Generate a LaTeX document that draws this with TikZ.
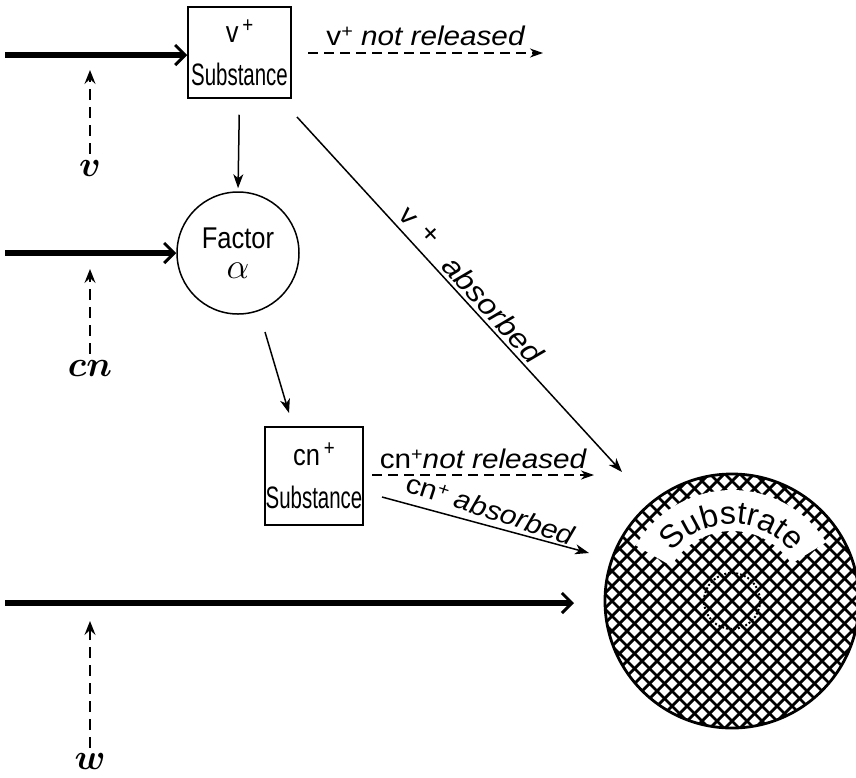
\RequirePackage{fix-cm}
\documentclass[tikz,border=0pt]{standalone}
\usepackage{fontspec}
\setmainfont{Liberation Sans}
\newfontfamily\condf{Liberation Sans}[FakeStretch=0.66]
\newfontfamily\factf{Liberation Sans}[FakeStretch=0.85]
\newfontfamily\widef{Liberation Sans}[FakeStretch=1.1]
\usetikzlibrary{arrows.meta,decorations.text}
\newcommand{\plussup}{\raisebox{8pt}{\fontsize{18}{18}\selectfont +}}
\newcommand{\boxtop}[1]{{\factf\fontsize{30}{30}\selectfont #1\raisebox{10pt}{\fontsize{22}{22}\selectfont\,+}}}
\begin{document}
\begin{tikzpicture}[x=1pt,y=-1pt,
  sbox/.style={draw,line width=1.5pt,align=center,inner sep=0pt,font=\condf\fontsize{31}{31}\selectfont},
  thickarr/.style={line width=6pt,-{Straight Barb[length=10pt,width=20pt,line width=3pt]}},
  thinarr/.style={line width=1.5pt,-{Stealth[length=14pt,width=10pt,inset=4pt]}},
  dasharr/.style={line width=1.5pt,dash pattern=on 10pt off 6pt,-{Stealth[length=13pt,width=9pt,inset=4pt]}},
  vdash/.style={line width=1.8pt,dash pattern=on 11pt off 7pt,-{Stealth[length=14pt,width=11pt,inset=5pt]}},
  var/.style={font=\fontsize{36}{36}\selectfont\boldmath,inner sep=0pt},
  lbl/.style={font=\widef\fontsize{27}{28}\selectfont,inner sep=1pt}]
\useasboundingbox (0,0) rectangle (856,777);

% boxes and circle
\node[sbox,minimum width=103pt,minimum height=91pt] (vbox) at (239.5,52.5) {\boxtop{v}\\[12pt]Substance};
\node[draw,circle,line width=1.5pt,minimum size=122pt,align=center,inner sep=0pt,font=\factf\fontsize{30}{30}\selectfont] (fac) at (238,253) {Factor\\[0pt]\fontsize{36}{36}\selectfont$\alpha$};
\node[sbox,minimum width=98pt,minimum height=98pt] (cnbox) at (314,476) {\boxtop{cn}\\[12pt]Substance};

% thick input arrows
\coordinate (vin) at (5,55);
\coordinate (cnin) at (5,253);
\coordinate (win) at (5,603);
\coordinate (wend) at (574,603);
\draw[thickarr] (vin) -- (vbox.west |- vin);
\draw[thickarr] (cnin) -- (fac.west);
\draw[thickarr] (win) -- (wend);

% variable labels with dashed arrows
\node[var] (vlab) at (90,168) {$v$};
\node[var] (cnlab) at (90,368) {$cn$};
\node[var] (wlab) at (90,761) {$w$};
\coordinate (vtip) at (90,70);
\coordinate (cntip) at (90,269);
\coordinate (wtip) at (90,621);
\draw[vdash,shorten <=6pt] (vlab.north) -- (vtip);
\draw[vdash,shorten <=6pt] (cnlab.north) -- (cntip);
\draw[vdash,shorten <=5pt] (wlab.north) -- (wtip);

% substrate
\coordinate (sub) at (732,601);
\begin{scope}
  \clip (sub) circle (127);
  \foreach \d in {-285,-270,...,285} {
    \draw[line width=2.8pt] ([shift={(\d-140,-140)}]sub) -- ([shift={(\d+140,140)}]sub);
    \draw[line width=2.8pt] ([shift={(\d-140,140)}]sub) -- ([shift={(\d+140,-140)}]sub);
  }
\end{scope}
\begin{scope}[shift={(732,601)}]
  \fill[white] plot[domain=-150:-32,samples=50] (\x:111)
     -- plot[domain=-32:-150,samples=50] (\x:70) -- cycle;
  \path[decorate,decoration={text along path,text align=center,
      text={|\fontsize{32}{32}\selectfont|Substrate}}]
      (-165:77) arc[start angle=-165,end angle=-15,radius=77];
  \draw[line width=2pt,dotted] (0,0) circle (28);
\end{scope}
\node[draw,circle,line width=2.8pt,minimum size=254pt,inner sep=0pt] (subc) at (sub) {};

% connectors
\coordinate (vnr0) at (308,53);
\coordinate (vnr) at (543,53);
\draw[dasharr] (vnr0) -- (vnr)
  node[lbl,midway,above=5pt] (vnrl) {v\plussup\ \itshape not released};

\draw[thinarr,shorten <=16pt,shorten >=3pt] (vbox.south) -- (fac.north);

\coordinate (fa) at (265,332);
\coordinate (fb) at (289,413);
\draw[thinarr] (fa) -- (fb);

\coordinate (vabs0) at (297,117);
\coordinate (vabs) at (622,472);
\draw[thinarr] (vabs0) -- (vabs)
  node[lbl,pos=0.34,sloped,above=5pt] (vabl1) {v\hspace{12pt}\raisebox{4pt}{+}}
  node[lbl,pos=0.57,sloped,above=2pt,font=\widef\fontsize{29}{30}\selectfont] (vabl2) {\itshape absorbed};

\coordinate (cnr0) at (372,475);
\coordinate (cnr) at (594,475);
\draw[dasharr] (cnr0) -- (cnr)
  node[lbl,midway,above=4pt] (cnrl) {cn\plussup\itshape not released};

\coordinate (cna0) at (382,497);
\coordinate (cna) at (589,553);
\draw[thinarr] (cna0) -- (cna)
  node[lbl,midway,sloped,above=5pt,rotate=-3] (cnal) {cn\plussup\ \itshape absorbed};
\end{tikzpicture}
\end{document}
